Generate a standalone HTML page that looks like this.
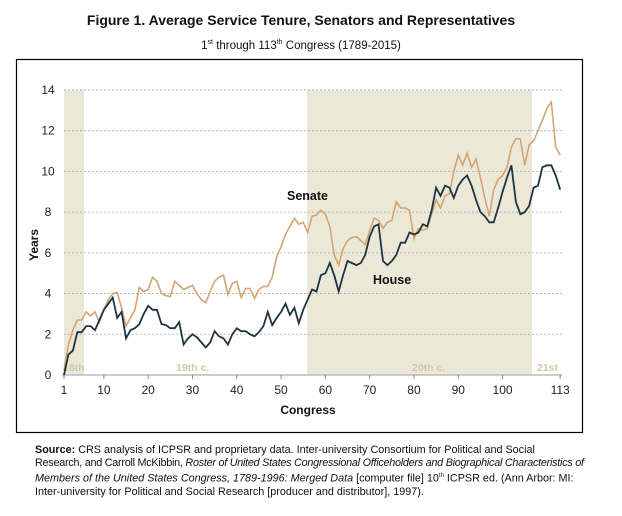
<!DOCTYPE html>
<html><head><meta charset="utf-8"><style>
body{margin:0;background:#fff;width:622px;height:516px;overflow:hidden;font-family:"Liberation Sans",sans-serif}
.t{position:absolute;left:0;width:602px;text-align:center}
.src{position:absolute;left:35px;top:444px;font-size:10.8px;line-height:13px;color:#111;white-space:nowrap}
.src span{display:block}
</style></head><body>
<div class="t" style="top:12px;font-size:14px;font-weight:bold;color:#111">Figure 1. Average Service Tenure, Senators and Representatives</div>
<div class="t" style="top:39px;font-size:11.5px;color:#111">1<sup style="font-size:7px">st</sup> through 113<sup style="font-size:7px">th</sup> Congress (1789-2015)</div>
<svg width="622" height="516" style="position:absolute;left:0;top:0" id="s">
<rect x="16.5" y="59.5" width="566" height="373" fill="none" stroke="#000" stroke-width="1.2"/>
<rect x="64" y="90" width="20" height="285" fill="#ebe8d8"/>
<rect x="307" y="90" width="225" height="285" fill="#ebe8d8"/>
<g id="grid" stroke="#aaa" stroke-dasharray="2,2" stroke-width="0.8"></g>
<line x1="62" y1="375" x2="562" y2="375" stroke="#bbb" stroke-width="1.5"/>
<g id="ticks" font-size="12" fill="#222" text-anchor="middle"></g>
<g font-size="10.5" font-weight="bold" fill="#cfc9a8">
<text x="63" y="371">18th</text><text x="176" y="371">19th c.</text><text x="412" y="371">20th c.</text><text x="537" y="371">21st</text></g>
<polyline id="sen" fill="none" stroke="#d4a574" stroke-width="1.6"/>
<polyline id="hou" fill="none" stroke="#1e3440" stroke-width="1.8"/>
<text x="287" y="200" font-size="12.5" font-weight="bold" fill="#111">Senate</text>
<text x="373" y="284" font-size="12.5" font-weight="bold" fill="#111">House</text>
<text x="308" y="414" font-size="12" font-weight="bold" fill="#111" text-anchor="middle">Congress</text>
<text transform="translate(38,245) rotate(-90)" font-size="12" font-weight="bold" fill="#111" text-anchor="middle">Years</text>
</svg>
<div class="src"><span><b>Source:</b> CRS analysis of ICPSR and proprietary data. Inter-university Consortium for Political and Social</span><span style="letter-spacing:-0.25px">Research, and Carroll McKibbin, <i>Roster of United States Congressional Officeholders and Biographical Characteristics of</i></span><span><i>Members of the United States Congress, 1789-1996: Merged Data</i> [computer file] 10<sup style="font-size:6px">th</sup> ICPSR ed. (Ann Arbor: MI:</span><span>Inter-university for Political and Social Research [producer and distributor], 1997).</span></div>
<script>
var S=[0.2,1.5,2.2,2.7,2.7,3.1,2.9,3.1,2.6,3.2,3.7,4.0,4.05,3.3,2.4,2.8,3.2,4.3,4.1,4.2,4.8,4.6,4.0,3.9,3.85,4.6,4.4,4.2,4.3,4.4,4.0,3.7,3.55,4.1,4.6,4.8,4.9,3.95,4.5,4.6,3.8,4.25,4.25,3.75,4.2,4.35,4.35,4.8,5.8,6.3,6.9,7.3,7.7,7.4,7.5,7.0,7.8,7.85,8.1,7.9,7.3,5.9,5.4,6.2,6.6,6.75,6.8,6.6,6.4,7.1,7.7,7.6,7.2,7.5,7.6,8.5,8.2,8.2,8.1,6.7,7.2,7.1,7.2,7.9,8.6,8.2,8.8,8.9,10.0,10.8,10.3,10.9,10.2,10.6,9.7,8.7,7.8,9.1,9.6,9.8,10.2,11.2,11.6,11.6,10.3,11.3,11.5,12.0,12.5,13.1,13.4,11.2,10.8];
var H=[0,1.0,1.2,2.1,2.1,2.4,2.4,2.2,2.7,3.2,3.5,3.8,2.8,3.1,1.8,2.2,2.3,2.5,3.0,3.4,3.2,3.2,2.5,2.45,2.3,2.3,2.6,1.5,1.8,2.0,1.85,1.6,1.35,1.6,2.15,1.9,1.8,1.5,2.0,2.3,2.15,2.15,2.0,1.9,2.1,2.4,3.1,2.45,2.8,3.1,3.5,2.95,3.3,2.55,3.2,3.7,4.2,4.1,4.9,5.0,5.5,4.9,4.1,4.9,5.6,5.5,5.4,5.5,5.9,6.8,7.3,7.4,5.6,5.4,5.6,5.9,6.5,6.5,7.0,6.9,7.0,7.4,7.3,8.1,9.2,8.8,9.3,9.2,8.7,9.3,9.6,9.8,9.3,8.6,8.0,7.8,7.5,7.5,8.2,9.0,9.7,10.3,8.5,7.9,8.0,8.3,9.2,9.3,10.2,10.3,10.3,9.8,9.1];
function X(c){return 64+(c-1)*4.43}function Y(v){return 375-v*20.36}
function P(a){return a.map(function(v,i){return X(i+1).toFixed(1)+","+Y(v).toFixed(1)}).join(" ")}
document.getElementById("sen").setAttribute("points",P(S));
document.getElementById("hou").setAttribute("points",P(H));
var ns="http://www.w3.org/2000/svg",g=document.getElementById("grid"),t=document.getElementById("ticks");
for(var v=0;v<=14;v+=2){if(v>0){var l=document.createElementNS(ns,"line");l.setAttribute("x1",64);l.setAttribute("x2",562);l.setAttribute("y1",Y(v));l.setAttribute("y2",Y(v));g.appendChild(l);}
var tx=document.createElementNS(ns,"text");tx.setAttribute("x",48);tx.setAttribute("y",Y(v)+4);tx.textContent=v;t.appendChild(tx);}
[1,10,20,30,40,50,60,70,80,90,100,113].forEach(function(c){var tx=document.createElementNS(ns,"text");tx.setAttribute("x",X(c));tx.setAttribute("y",394);tx.textContent=c;t.appendChild(tx);
var l=document.createElementNS(ns,"line");l.setAttribute("x1",X(c));l.setAttribute("x2",X(c));l.setAttribute("y1",375);l.setAttribute("y2",379);l.setAttribute("stroke","#888");t.appendChild(l);});
</script>
</body></html>
